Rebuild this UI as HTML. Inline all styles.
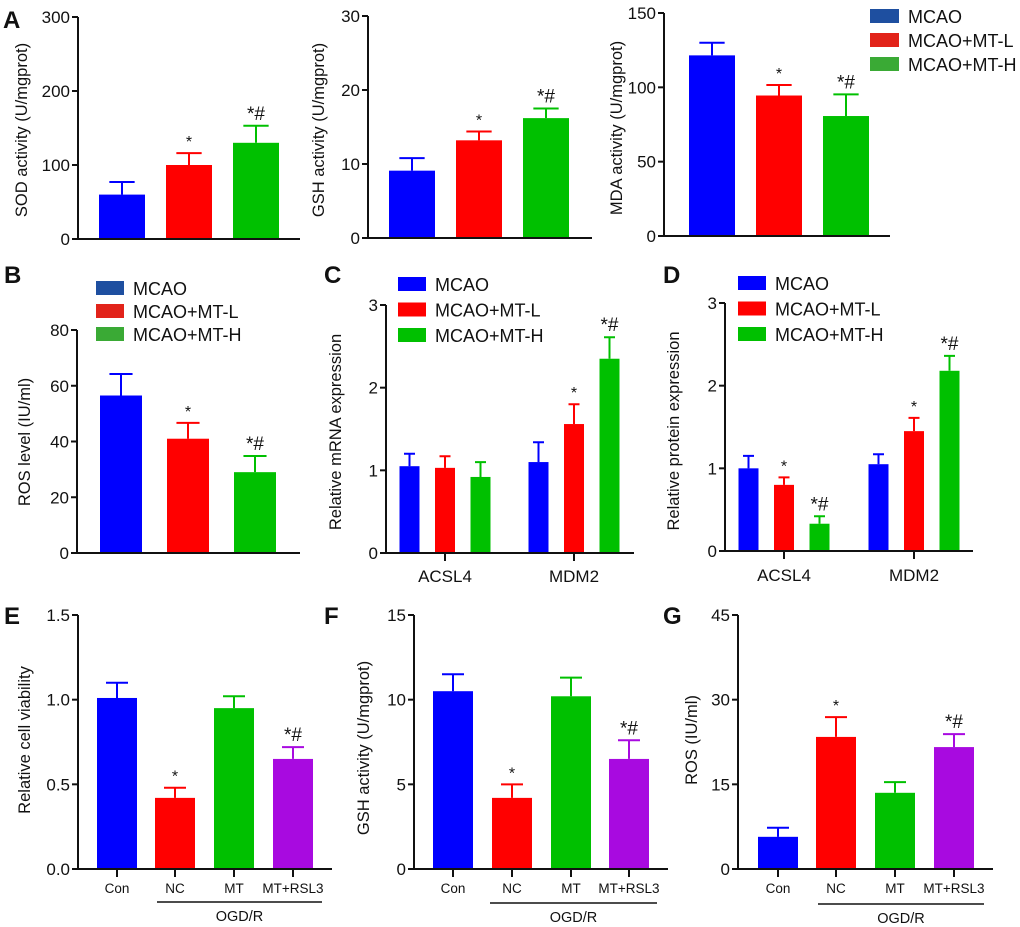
<!DOCTYPE html>
<html><head><meta charset="utf-8"><style>
html,body{margin:0;padding:0;background:#fff;}
svg{display:block;font-family:"Liberation Sans",Arial,sans-serif;}
</style></head><body>
<svg id="fig" width="1020" height="927" viewBox="0 0 1020 927" xmlns="http://www.w3.org/2000/svg"></svg>
<script>
// ---- data ----
const groupsA = ["MCAO","MCAO+MT-L","MCAO+MT-H"];
const sodVals = [60,100,130];
const sodErr = [77,116,153];
const sodMarks = ["","*","*#"];
const gshAVals = [9.1,13.2,16.2];
const gshAErr = [10.8,14.4,17.5];
const gshAMarks = ["","*","*#"];
const mdaVals = [121.5,94.5,80.7];
const mdaErr = [130,101.6,95.3];
const mdaMarks = ["","*","*#"];
const rosBVals = [56.5,41,29];
const rosBErr = [64.2,46.7,34.8];
const rosBMarks = ["","*","*#"];
const genes = ["ACSL4","MDM2"];
const mrnaVals = [[1.05,1.03,0.92],[1.10,1.56,2.35]];
const mrnaErr = [[1.20,1.17,1.10],[1.34,1.80,2.61]];
const mrnaMarks = [["","",""],["","*","*#"]];
const protVals = [[1.00,0.80,0.33],[1.05,1.45,2.18]];
const protErr = [[1.15,0.89,0.42],[1.17,1.61,2.36]];
const protMarks = [["","*","*#"],["","*","*#"]];
const groupsE = ["Con","NC","MT","MT+RSL3"];
const viabVals = [1.01,0.42,0.95,0.65];
const viabErr = [1.10,0.48,1.02,0.72];
const viabMarks = ["","*","","*#"];
const gshFVals = [10.5,4.2,10.2,6.5];
const gshFErr = [11.5,5.0,11.3,7.6];
const gshFMarks = ["","*","","*#"];
const rosGVals = [5.7,23.4,13.5,21.6];
const rosGErr = [7.3,26.9,15.4,23.9];
const rosGMarks = ["","*","","*#"];
const ticksA1 = [0,100,200,300];
const ticksA2 = [0,10,20,30];
const ticksA3 = [0,50,100,150];
const ticksB = [0,20,40,60,80];
const ticks3 = [0,1,2,3];
const ticksE = ["0.0","0.5","1.0","1.5"];
const ticksF = [0,5,10,15];
const ticksG = [0,15,30,45];
// ---- drawing ----
const NS="http://www.w3.org/2000/svg";
const svg=document.getElementById('fig');
const C3=["#0000ff","#ff0000","#00c000"];
const C4=["#0000ff","#ff0000","#00c000","#a80ae0"];
const LEG=["#1e4fa0","#e2231a","#3aaa35"];
function el(tag,attrs,parent){const e=document.createElementNS(NS,tag);for(const k in attrs)e.setAttribute(k,attrs[k]);(parent||svg).appendChild(e);return e;}
function txt(s,x,y,size,anchor,parent,weight){const t=el('text',{x:x,y:y,'font-size':size,'text-anchor':anchor||'middle','font-weight':weight||'normal',fill:'#111'},parent);t.textContent=s;return t;}
function panel(name,p){
  const g=el('g',{});
  
  
  const sy=v=>p.y0-(v/p.max)*(p.y0-p.ytop);
  const ya=el('line',{x1:p.ax,y1:p.ytop,x2:p.ax,y2:p.y0+1,stroke:'#111','stroke-width':2},g);
  
  
  p.ticks.forEach(t=>{const v=parseFloat(t);
    el('line',{x1:p.ax-6,y1:sy(v),x2:p.ax,y2:sy(v),stroke:'#111','stroke-width':2},g);
    const tl=txt(String(t),p.ax-8,sy(v)+6,p.tf||17,'end',g);
    
    
  });
  const ttl=txt(p.title,0,0,p.tsz||16.5,'middle',g);
  ttl.setAttribute('transform','translate('+p.tx+','+p.ty+') rotate(-90)');
  
  
  p.bars.forEach((b,i)=>{
    const top=sy(b.v);
    const r=el('rect',{x:b.cx-p.bw/2,y:top,width:p.bw,height:p.y0-top,fill:b.c},g);
    
    
    const et=sy(b.e);const cw=p.bw*0.55;
    const eb=el('path',{d:'M'+b.cx+' '+top+'V'+et+'M'+(b.cx-cw/2)+' '+et+'H'+(b.cx+cw/2),stroke:b.c,'stroke-width':2,fill:'none'},g);
    
    
    if(b.m){const s=txt(b.m,b.cx,et-6,b.m.length>1?19:16,'middle',g);
      
      }
  });
  const xa=el('line',{x1:p.ax-6,y1:p.y0,x2:p.axEnd,y2:p.y0,stroke:'#111','stroke-width':2},g);
  
  
  (p.xl||[]).forEach(l=>{
    el('line',{x1:l.x,y1:p.y0,x2:l.x,y2:p.y0+8,stroke:'#111','stroke-width':2},g);
    const t=txt(l.s,l.x,p.y0+(l.dy||24),l.f||13.5,'middle',g);
    
    
  });
  if(p.ogd){const o=p.ogd;
    const ln=el('line',{x1:o.x1,y1:o.y,x2:o.x2,y2:o.y,stroke:'#111','stroke-width':1.6},g);
    
    
    const t=txt('OGD/R',(o.x1+o.x2)/2,o.y+19,14.5,'middle',g);
    
    }
  if(p.leg){const L=p.leg;groupsA.forEach((s,i)=>{
    const r=el('rect',{x:L.x,y:L.y+i*L.dy-7,width:L.w,height:14,fill:L.c[i]},g);
    
    
    const t=txt(s,L.x+L.w+9,L.y+i*L.dy+7,18,'start',g);
    
    });}
  if(p.lab){const t=txt(p.lab[0],p.lab[1],p.lab[2],24,'start',g,'bold');
    
    }
}
function simple(vals,err,marks,cols,cxs,names){return vals.map((v,i)=>({v:v,e:err[i],m:marks[i],c:cols[i],cx:cxs[i],n:names[i]}));}
function grouped(vals,err,marks,cxs){const out=[];vals.forEach((gv,gi)=>gv.forEach((v,i)=>out.push({v:v,e:err[gi][i],m:marks[gi][i],c:C3[i],cx:cxs[gi]+(i-1)*35.5,n:genes[gi]+'-'+groupsA[i]})));return out;}

panel('panel-a-sod',{ax:78,ytop:17,y0:239,max:300,axEnd:300,ticks:ticksA1,title:'SOD activity (U/mgprot)',tx:27,ty:130,bw:46,
  bars:simple(sodVals,sodErr,sodMarks,C3,[122,189,256],groupsA),lab:['A',3,28]});
panel('panel-a-gsh',{ax:368,ytop:16,y0:238,max:30,axEnd:592,ticks:ticksA2,title:'GSH activity (U/mgprot)',tx:324,ty:130,bw:46,
  bars:simple(gshAVals,gshAErr,gshAMarks,C3,[412,479,546],groupsA)});
panel('panel-a-mda',{ax:664,ytop:13,y0:236,max:150,axEnd:890,ticks:ticksA3,title:'MDA activity (U/mgprot)',tx:622,ty:128,bw:46,
  bars:simple(mdaVals,mdaErr,mdaMarks,C3,[712,779,846],groupsA),leg:{x:870,y:16,dy:24,w:29,c:LEG}});
panel('panel-b-ros',{ax:77,ytop:330,y0:553,max:80,axEnd:300,ticks:ticksB,title:'ROS level (IU/ml)',tx:30,ty:442,bw:42,
  bars:simple(rosBVals,rosBErr,rosBMarks,C3,[121,188,255],groupsA),leg:{x:96,y:288,dy:23,w:28,c:LEG},lab:['B',4,283]});
panel('panel-c-mrna',{ax:386,ytop:305,y0:553,max:3,axEnd:634,ticks:ticks3,title:'Relative mRNA expression',tx:341,ty:432,bw:20,
  bars:grouped(mrnaVals,mrnaErr,mrnaMarks,[445,574]),leg:{x:398,y:284,dy:25.5,w:28,c:C3},lab:['C',324,283],
  xl:[{s:'ACSL4',x:445,dy:29,f:17},{s:'MDM2',x:574,dy:29,f:17}]});
panel('panel-d-protein',{ax:725,ytop:303,y0:551,max:3,axEnd:973,ticks:ticks3,title:'Relative protein expression',tx:679,ty:431,bw:20,
  bars:grouped(protVals,protErr,protMarks,[784,914]),leg:{x:738,y:283,dy:25.5,w:28,c:C3},lab:['D',663,283],
  xl:[{s:'ACSL4',x:784,dy:30,f:17},{s:'MDM2',x:914,dy:30,f:17}]});
panel('panel-e-viability',{ax:78,ytop:615,y0:869,max:1.5,axEnd:332,ticks:ticksE,title:'Relative cell viability',tx:30,ty:740,bw:40,
  bars:simple(viabVals,viabErr,viabMarks,C4,[117,175,234,293],groupsE),lab:['E',4,624],
  xl:groupsE.map((s,i)=>({s:s,x:[117,175,234,293][i]})),ogd:{x1:157,x2:322,y:902}});
panel('panel-f-gsh',{ax:414,ytop:615,y0:869,max:15,axEnd:668,ticks:ticksF,title:'GSH activity (U/mgprot)',tx:369,ty:748,bw:40,
  bars:simple(gshFVals,gshFErr,gshFMarks,C4,[453,512,571,629],groupsE),lab:['F',324,624],
  xl:groupsE.map((s,i)=>({s:s,x:[453,512,571,629][i]})),ogd:{x1:490,x2:657,y:903}});
panel('panel-g-ros',{ax:738,ytop:615,y0:869,max:45,axEnd:993,ticks:ticksG,title:'ROS (IU/ml)',tx:697,ty:740,bw:40,
  bars:simple(rosGVals,rosGErr,rosGMarks,C4,[778,836,895,954],groupsE),lab:['G',663,624],
  xl:groupsE.map((s,i)=>({s:s,x:[778,836,895,954][i]})),ogd:{x1:818,x2:984,y:904}});
</script>
</body></html>
